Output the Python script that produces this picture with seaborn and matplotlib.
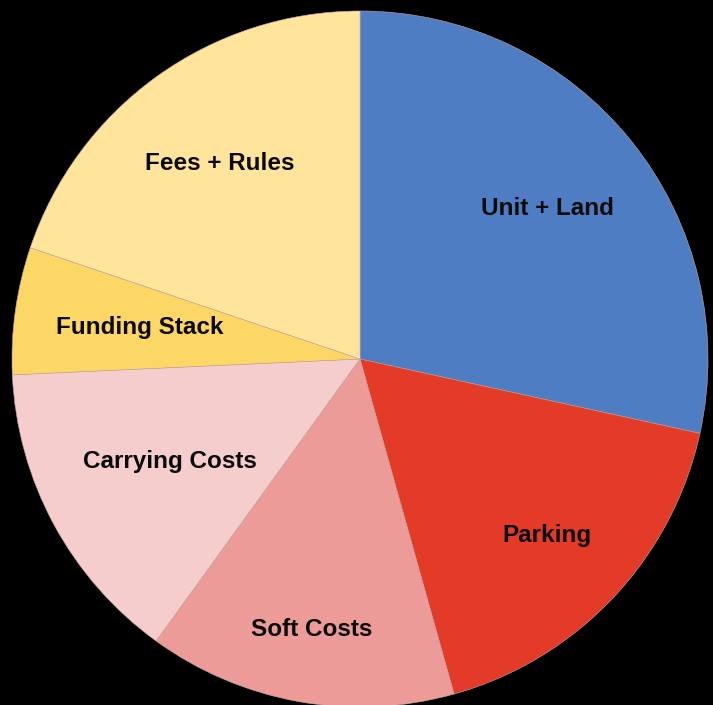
import matplotlib
matplotlib.use("Agg")
import matplotlib.pyplot as plt
import seaborn as sns
import numpy as np

# slice shares (percent), clockwise from 12 o'clock
categories = ["Unit + Land", "Parking", "Soft Costs", "Carrying Costs", "Funding Stack", "Fees + Rules"]
shares = [28.4, 17.2, 14.3, 14.3, 5.9, 19.8]
slice_colors = ["#4F7DC3", "#E43A28", "#EC9B99", "#F5CDCD", "#FDD766", "#FFE59B"]
label_radius = [0.69, 0.74, 0.79, 0.62, 0.64, 0.69]

sns.set_style("white")
plt.rcParams['font.family'] = ['Liberation Sans', 'DejaVu Sans']

palette = sns.color_palette(slice_colors)

fig = plt.figure(figsize=(7.13, 7.05), dpi=100)
fig.patch.set_facecolor("black")
ax = fig.add_axes([12 / 713, (705 - 359 - 348) / 705, 696 / 713, 696 / 705])
ax.set_facecolor("black")

wedges, texts = ax.pie(
    shares,
    labels=categories,
    colors=palette,
    startangle=90,
    counterclock=False,
    radius=1.0,
    wedgeprops=dict(linewidth=0.4, edgecolor="#c9a9a0"),
    textprops=dict(fontsize=17.5, fontweight="bold", color="#0a0a0a"),
)

# move each label inside its slice
for w, t, r in zip(wedges, texts, label_radius):
    mid = np.deg2rad((w.theta1 + w.theta2) / 2)
    t.set_position((r * np.cos(mid), r * np.sin(mid)))
    t.set_ha("center")
    t.set_va("center")

ax.set_xlim(-1, 1)
ax.set_ylim(-1, 1)
ax.set_aspect("auto")
ax.axis("off")

fig.savefig("out.png", dpi=100, facecolor="black")
